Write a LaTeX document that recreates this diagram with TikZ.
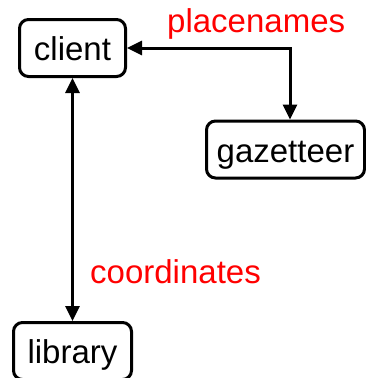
\documentclass[tikz,border=0pt]{standalone}
\usepackage{fontspec}
\setmainfont{Liberation Sans}
\usetikzlibrary{arrows.meta}

\begin{document}
\begin{tikzpicture}[x=1pt,y=-1pt,
    every node/.style={font=\fontsize{33pt}{40pt}\selectfont, inner sep=0pt},
    entity/.style={draw, line width=3pt, rounded corners=9pt,
      minimum height=57pt, text height=25pt, text depth=0pt},
    flow/.style={line width=3pt, {Triangle[length=15pt,width=14pt]}-{Triangle[length=15pt,width=14pt]}},
    tag/.style={text=red, anchor=base west}]
  \useasboundingbox (0,0) rectangle (366,378);

  % components
  \node[entity, minimum width=106pt] (client) at (72.5,48) {client};
  \node[entity, minimum width=158pt] (gazetteer) at (285.5,149.5) {gazetteer};
  \node[entity, minimum width=118pt] (library) at (72.5,351) {library};

  % exchanges between them
  \coordinate (gztop) at ([xshift=4.5pt]gazetteer.north);
  \draw[flow] (client.east) -| (gztop);
  \draw[flow] (client.south) -- (library.north);

  % what is exchanged
  \node[tag] (placenames) at (167,32) {placenames};
  \node[tag] (coordinates) at (90,283) {coordinates};
\end{tikzpicture}
\end{document}
